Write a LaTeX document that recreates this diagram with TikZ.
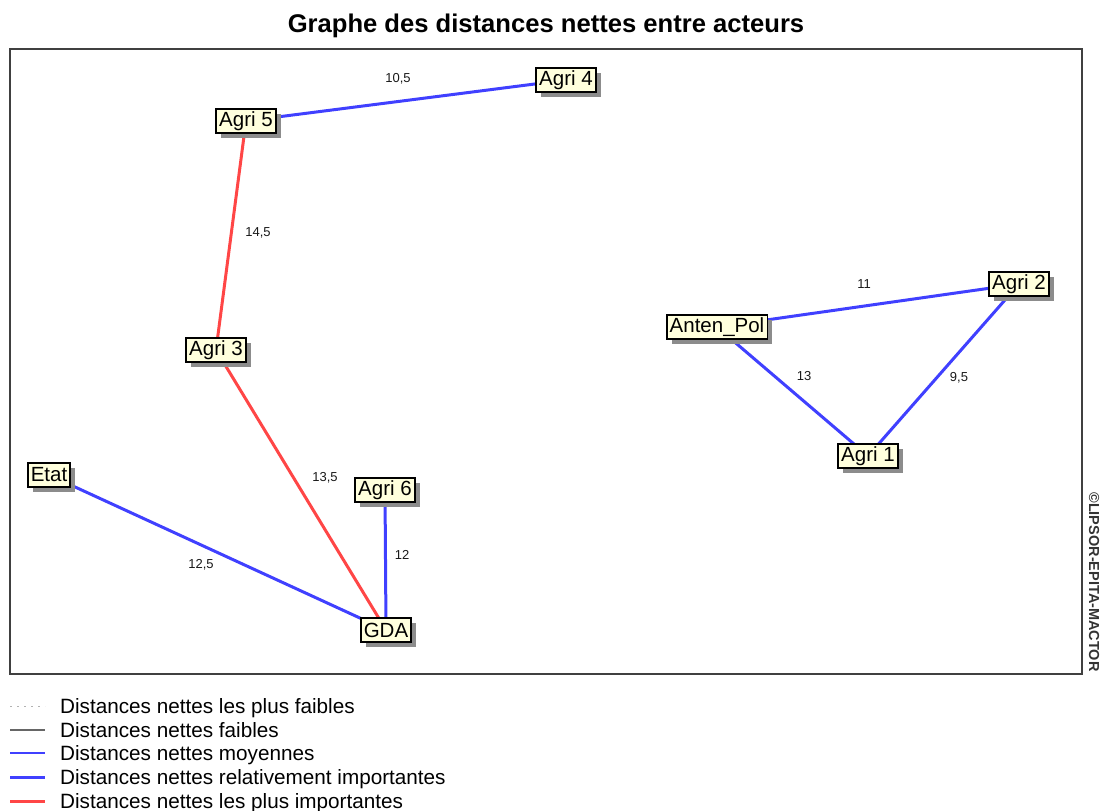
\documentclass[tikz,border=0pt]{standalone}
\usepackage{fontspec}
\setmainfont{Liberation Sans}
\usetikzlibrary{shadows}
\definecolor{linkblue}{RGB}{64,64,255}
\definecolor{linkred}{RGB}{255,70,70}
\definecolor{boxfill}{RGB}{255,255,221}
\begin{document}
\begin{tikzpicture}[x=1pt,y=-1pt,
  actor/.style={draw=black,line width=1.6pt,fill=boxfill,
    inner xsep=3pt,inner ysep=1.5pt,font=\fontsize{20.5}{21}\selectfont,
    minimum height=24pt,
    drop shadow={shadow xshift=5pt,shadow yshift=-5pt,opacity=1,fill=black!45}},
  mid/.style={draw=linkblue,line width=3pt},
  strong/.style={draw=linkred,line width=3pt},
  dist/.style={font=\fontsize{13}{13}\selectfont,text=black!90},
  legtext/.style={font=\fontsize{20.7}{21}\selectfont,anchor=base west,inner sep=0pt}]
\useasboundingbox (0,0) rectangle (1103,811);

% title and frame
\node[font=\bfseries\fontsize{25.6}{26}\selectfont] (title) at (546,26) {Graphe des distances nettes entre acteurs};
\draw[line width=2pt,draw=black!75] (10,49) rectangle (1082,674);
\node[rotate=-90,font=\bfseries\fontsize{14.5}{15}\selectfont,text=black!80] (copy) at (1094,582) {©LIPSOR-EPITA-MACTOR};

% actor positions
\coordinate (pA4) at (566,80);
\coordinate (pA5) at (246,121);
\coordinate (pA3) at (216,350);
\coordinate (pEt) at (49,475);
\coordinate (pA6) at (385,490);
\coordinate (pGD) at (386,630);
\coordinate (pAP) at (717,327);
\coordinate (pA2) at (1019,284);
\coordinate (pA1) at (868,456);

% links between actors
\draw[mid] (pA5) -- (pA4);
\draw[strong] (pA5) -- (pA3);
\draw[strong] (pA3) -- (pGD);
\draw[mid] (pEt) -- (pGD);
\draw[mid] (pA6) -- (pGD);
\draw[mid] (pAP) -- (pA2);
\draw[mid] (pAP) -- (pA1);
\draw[mid] (pA2) -- (pA1);

% distance values
\node[dist] (d1) at (398,79) {10,5};
\node[dist] (d2) at (258,233) {14,5};
\node[dist] (d3) at (325,478) {13,5};
\node[dist] (d4) at (201,565) {12,5};
\node[dist] (d5) at (402,555) {12};
\node[dist] (d6) at (864,284) {11};
\node[dist] (d7) at (804,376) {13};
\node[dist] (d8) at (959,378) {9,5};

% actor boxes
\node[actor] (A4) at (pA4) {Agri 4};
\node[actor] (A5) at (pA5) {Agri 5};
\node[actor] (A3) at (pA3) {Agri 3};
\node[actor] (Et) at (pEt) {Etat};
\node[actor] (A6) at (pA6) {Agri 6};
\node[actor] (GD) at (pGD) {GDA};
\node[actor] (AP) at (pAP) {Anten\_Pol};
\node[actor] (A2) at (pA2) {Agri 2};
\node[actor] (A1) at (pA1) {Agri 1};

% legend
\coordinate (l1a) at (10,706); \coordinate (l1b) at (45,706);
\coordinate (l2a) at (10,730); \coordinate (l2b) at (45,730);
\coordinate (l3a) at (10,753); \coordinate (l3b) at (45,753);
\coordinate (l4a) at (10,777); \coordinate (l4b) at (45,777);
\coordinate (l5a) at (10,801); \coordinate (l5b) at (45,801);
\draw[black!30,line width=1pt,dash pattern=on 2pt off 5pt] (l1a) -- (l1b);
\draw[black!60,line width=1.3pt] (l2a) -- (l2b);
\draw[linkblue,line width=1.3pt] (l3a) -- (l3b);
\draw[mid] (l4a) -- (l4b);
\draw[strong] (l5a) -- (l5b);
\node[legtext] (t1) at (60,713) {Distances nettes les plus faibles};
\node[legtext] (t2) at (60,737) {Distances nettes faibles};
\node[legtext] (t3) at (60,760) {Distances nettes moyennes};
\node[legtext] (t4) at (60,784) {Distances nettes relativement importantes};
\node[legtext] (t5) at (60,808) {Distances nettes les plus importantes};
\end{tikzpicture}
\end{document}
